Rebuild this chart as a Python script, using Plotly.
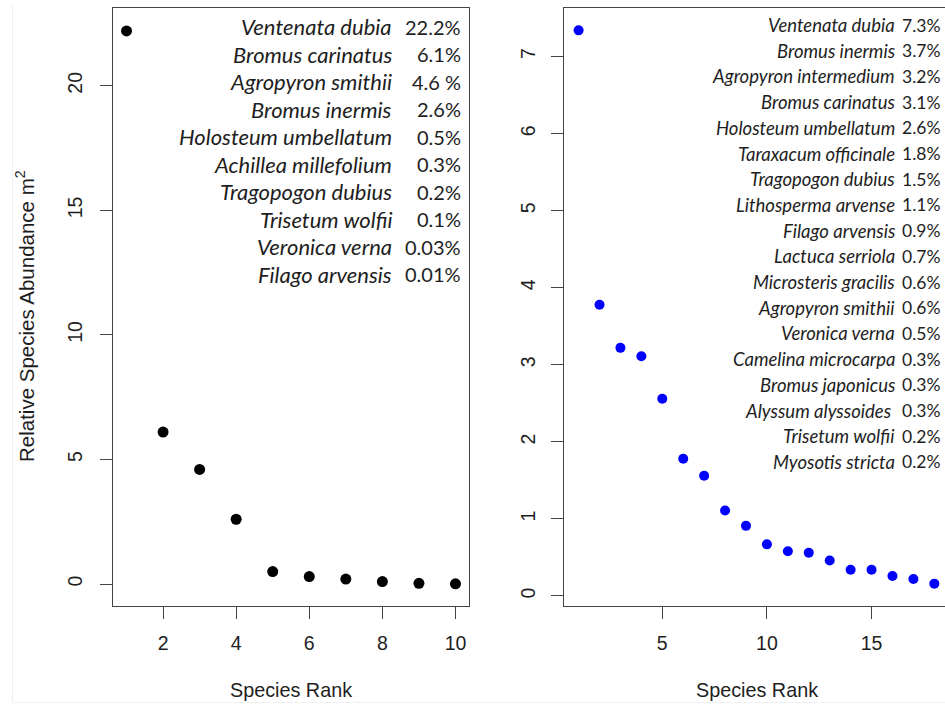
import plotly.graph_objects as go

W, H = 945, 704

# Community A: rank-abundance of the 10 species
rank_a = list(range(1, 11))
abund_a = [22.2, 6.1, 4.6, 2.6, 0.5, 0.3, 0.2, 0.1, 0.03, 0.01]
species_a = ["Ventenata dubia", "Bromus carinatus", "Agropyron smithii",
             "Bromus inermis", "Holosteum umbellatum", "Achillea millefolium",
             "Tragopogon dubius", "Trisetum wolfii", "Veronica verna",
             "Filago arvensis"]
pct_a = ["22.2%", "6.1%", "4.6 %", "2.6%", "0.5%", "0.3%", "0.2%", "0.1%",
         "0.03%", "0.01%"]

# Community B: rank-abundance of the 18 species
rank_b = list(range(1, 19))
abund_b = [7.34, 3.78, 3.22, 3.11, 2.56, 1.78, 1.56, 1.11, 0.91, 0.67, 0.58,
           0.56, 0.46, 0.34, 0.34, 0.26, 0.22, 0.16]
species_b = ["Ventenata dubia", "Bromus inermis", "Agropyron intermedium",
             "Bromus carinatus", "Holosteum umbellatum", "Taraxacum officinale",
             "Tragopogon dubius", "Lithosperma arvense", "Filago arvensis",
             "Lactuca serriola", "Microsteris gracilis", "Agropyron smithii",
             "Veronica verna", "Camelina microcarpa", "Bromus japonicus",
             "Alyssum alyssoides\u00a0", "Trisetum wolfii", "Myosotis stricta"]
pct_b = ["7.3%", "3.7%", "3.2%", "3.1%", "2.6%", "1.8%", "1.5%", "1.1%",
         "0.9%", "0.7%", "0.6%", "0.6%", "0.5%", "0.3%", "0.3%", "0.3%",
         "0.2%", "0.2%"]


def px(x):
    return x / W


def py(y):
    return 1 - y / H


AX = "#444444"
TXT = "#1e1e1e"
SANS = "Liberation Sans, Arial, sans-serif"
TICKFONT = dict(family=SANS, size=19.5, color=TXT)
LEGFONT = "Lato, Carlito, sans-serif"

fig = go.Figure()
fig.add_trace(go.Scatter(x=rank_a, y=abund_a, mode="markers",
                         marker=dict(color="black", size=11),
                         xaxis="x", yaxis="y", showlegend=False))
fig.add_trace(go.Scatter(x=rank_b, y=abund_b, mode="markers",
                         marker=dict(color="#0000ff", size=10),
                         xaxis="x2", yaxis="y2", showlegend=False))

common = dict(showgrid=False, zeroline=False, showline=True, linecolor=AX,
              linewidth=1.3, ticks="outside", ticklen=12, tickwidth=1.3,
              tickcolor=AX, tickfont=TICKFONT, tickmode="linear")

ydom = [py(605.7), py(8)]
fig.update_layout(
    width=W, height=H, autosize=False,
    margin=dict(l=0, r=0, t=0, b=0),
    paper_bgcolor="white", plot_bgcolor="white",
    xaxis=dict(domain=[px(113), px(469)], range=[0.63, 10.37], tick0=0,
               dtick=2, mirror=True, anchor="y", ticklabelstandoff=8,
               **common),
    yaxis=dict(domain=ydom, range=[-0.87, 23.12], tick0=0, dtick=5,
               mirror=True, anchor="x", tickangle=-90, ticklabelstandoff=10,
               **common),
    xaxis2=dict(domain=[px(564.3), 1], range=[0.317, 18.51], tick0=0,
                dtick=5, mirror=True, anchor="y2", ticklabelstandoff=8,
                **common),
    yaxis2=dict(domain=ydom, range=[-0.126, 7.63], tick0=0, dtick=1,
                mirror=False, anchor="x2", tickangle=-90,
                ticklabelstandoff=8, **common),
    # faint outer page border
    shapes=[
        dict(type="line", xref="paper", yref="paper", x0=px(12.5), x1=px(12.5),
             y0=py(4), y1=py(702.5), line=dict(color="#f0f0f0", width=1)),
        dict(type="line", xref="paper", yref="paper", x0=px(12.5), x1=1,
             y0=py(702.5), y1=py(702.5), line=dict(color="#f0f0f0", width=1)),
    ],
)

ann = []
# axis titles
for cx in (291, 756.5):
    ann.append(dict(x=px(cx), y=py(690), xref="paper", yref="paper",
                    text="Species Rank", showarrow=False,
                    xanchor="center", yanchor="middle",
                    font=dict(family=SANS, size=19.8, color=TXT)))
ann.append(dict(x=px(25), y=py(316), xref="paper", yref="paper",
                text="Relative Species Abundance m<sup>2</sup>",
                showarrow=False, textangle=-90,
                xanchor="center", yanchor="middle",
                font=dict(family=SANS, size=20.5, color=TXT)))


# species lists with percent cover
def species_block(names, pcts, name_right, pct_right, y0, step, nsize, psize):
    for i, (nm, pc) in enumerate(zip(names, pcts)):
        yy = py(y0 + i * step)
        ann.append(dict(x=px(name_right), y=yy, xref="paper", yref="paper",
                        text="<i>" + nm + "</i>", showarrow=False,
                        xanchor="right", yanchor="middle",
                        font=dict(family=LEGFONT, size=nsize, color=TXT)))
        ann.append(dict(x=px(pct_right), y=yy, xref="paper", yref="paper",
                        text=pc, showarrow=False,
                        xanchor="right", yanchor="middle",
                        font=dict(family=LEGFONT, size=psize, color=TXT)))


species_block(species_a, pct_a, 394, 463, 26.7, 27.48, 22, 20)
species_block(species_b, pct_b, 897, 942, 25, 25.7, 18.5, 17.5)

fig.update_layout(annotations=ann)
fig.write_html("out.html")
